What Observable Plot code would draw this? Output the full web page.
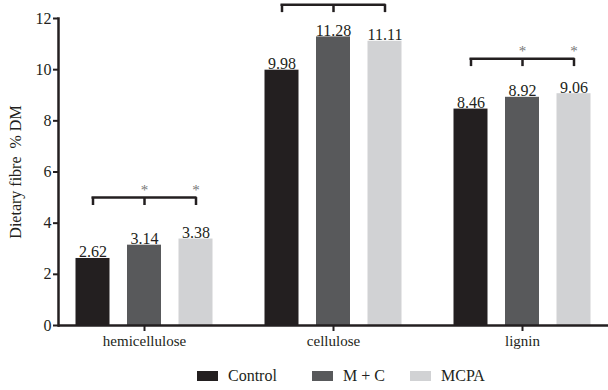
<!DOCTYPE html>
<html><head><meta charset="utf-8">
<script src="https://cdn.jsdelivr.net/npm/d3@7"></script>
<script src="https://cdn.jsdelivr.net/npm/@observablehq/plot@0.6"></script>
<style>
html,body{margin:0;padding:0;background:#fff;overflow:hidden;}
body{font-family:"Liberation Serif","Times New Roman",serif;}
#legend{position:relative;height:28px;font-size:16px;color:#231f20;}
.item{position:absolute;top:0;height:28px;display:flex;align-items:center;}
.sw{width:21px;height:10px;margin-right:10px;}
svg text{font-family:"Liberation Serif","Times New Roman",serif;}
</style></head><body>
<div id="chart"></div><div id="legend"></div>
<script>
const groups = ["hemicellulose", "cellulose", "lignin"];
const series = ["Control", "M + C", "MCPA"];
const controlValues = [2.62, 9.98, 8.46];
const mcValues = [3.14, 11.28, 8.92];
const mcpaValues = [3.38, 11.11, 9.06];
const yTicks = [0, 2, 4, 6, 8, 10, 12];
const bracketHeights = [5.0, 12.54, 10.43];
const starred = [[false, true, true], [false, false, false], [false, true, true]];

const colors = ["#231f20", "#58595b", "#d1d2d4"];
const ink = "#231f20";
const offsets = [-51.5, 0, 51.5];
const valueSets = [controlValues, mcValues, mcpaValues];

const rows = series.map((s, j) => groups.map((g, i) => ({group: g, series: s, value: valueSets[j][i]})));
const brackets = groups.map((g, i) => ({group: g, h: bracketHeights[i]}));
const stars = series.map((s, j) => groups.map((g, i) => ({group: g, h: bracketHeights[i], on: starred[i][j]})).filter(d => d.on));

const marks = [];
series.forEach((s, j) => {
  marks.push(Plot.barY(rows[j], {x: "group", y: "value", fill: colors[j], dx: offsets[j]}));
  marks.push(Plot.text(rows[j], {x: "group", y: "value", text: d => d.value.toFixed(2), dx: offsets[j], dy: -1, lineAnchor: "bottom", fontSize: 16, fill: ink}));
  marks.push(Plot.ruleX(brackets, {x: "group", y1: "h", y2: d => d.h - 0.31, dx: offsets[j], stroke: ink, strokeWidth: 2.5}));
  marks.push(Plot.text(stars[j], {x: "group", y: "h", text: () => "*", dx: offsets[j], dy: -3, lineAnchor: "bottom", fontSize: 15, fill: "#777"}));
});
marks.push(Plot.tickY(brackets, {x: "group", y: "h", insetLeft: -35.5, insetRight: -35.5, stroke: ink, strokeWidth: 2.5}));
marks.push(Plot.ruleY([0], {stroke: ink, strokeWidth: 2.5}));
marks.push(Plot.frame({anchor: "left", stroke: ink, strokeWidth: 2.5}));
marks.push(Plot.axisY({ticks: yTicks, tickSize: 5, tickPadding: 2, fontSize: 16, stroke: ink, strokeWidth: 2, fill: ink, label: "Dietary fibre  % DM", labelAnchor: "center", labelArrow: "none", labelOffset: 49}));
marks.push(Plot.axisX({tickSize: 6, tickPadding: 4, fontSize: 15, stroke: ink, strokeWidth: 2, fill: ink, label: null}));

const chart = Plot.plot({
  width: 608,
  height: 362,
  marginLeft: 58,
  marginRight: 0,
  marginTop: 18,
  marginBottom: 37,
  style: {fontFamily: "'Liberation Serif', 'Times New Roman', serif", fontSize: "16px", color: ink, background: "#fff", overflow: "visible"},
  x: {domain: groups, paddingInner: 0.82, paddingOuter: 0.365},
  y: {domain: [0, 12]},
  marks
});
document.getElementById("chart").appendChild(chart);

const legendLeft = [197, 312, 410];
const legend = document.getElementById("legend");
series.forEach((s, j) => {
  const item = document.createElement("div");
  item.className = "item";
  item.style.left = legendLeft[j] + "px";
  item.innerHTML = `<span class="sw" style="background:${colors[j]}"></span><span>${s}</span>`;
  legend.appendChild(item);
});
</script>
</body></html>
